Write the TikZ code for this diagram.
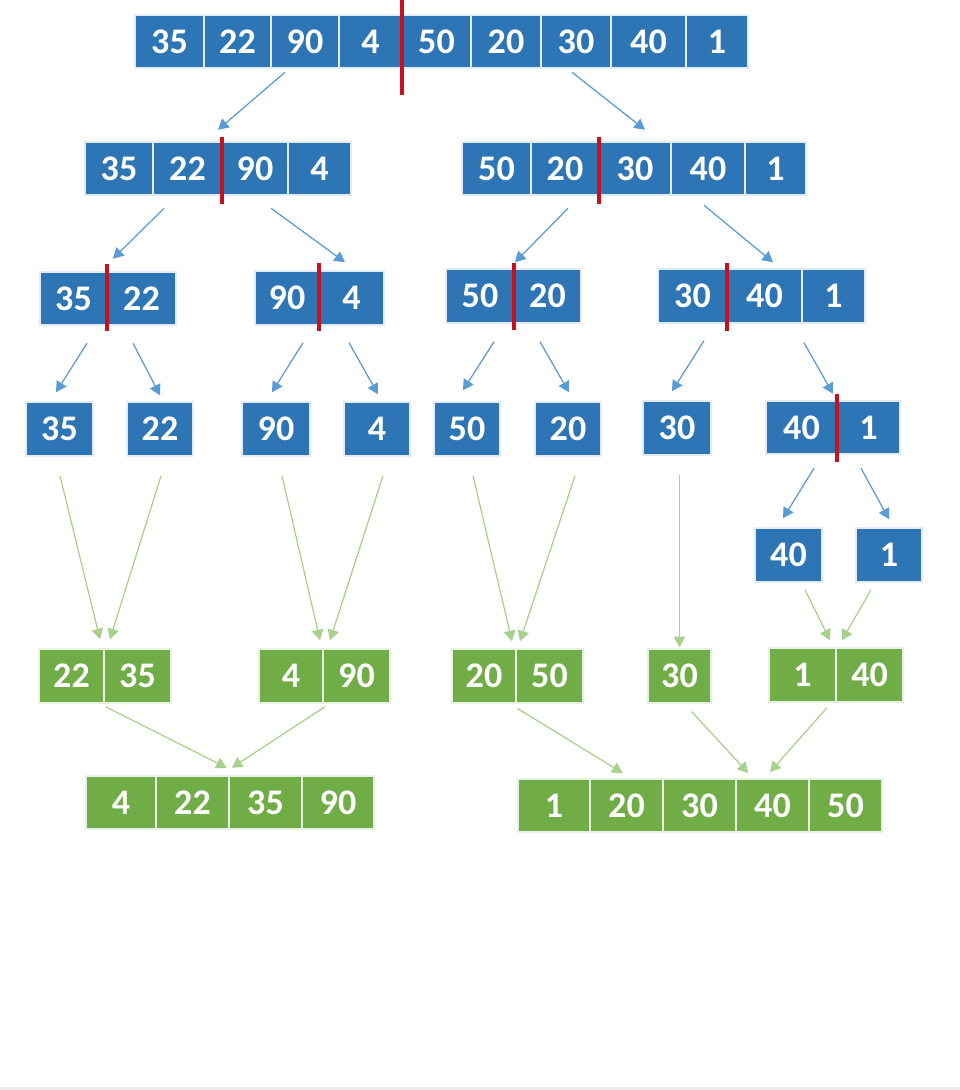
\documentclass[tikz,border=0pt]{standalone}
\usepackage{fontspec}
\setmainfont{Carlito}
\usetikzlibrary{arrows.meta}
\definecolor{cellblue}{RGB}{46,117,182}
\definecolor{cellgreen}{RGB}{112,173,71}
\definecolor{arrowblue}{RGB}{91,155,213}
\definecolor{arrowgreen}{RGB}{169,209,142}
\definecolor{cutred}{RGB}{200,16,30}
\begin{document}
\begin{tikzpicture}[x=0.02cm, y=-0.02cm,
	cell/.style={minimum height=1.07cm, inner sep=0, outer sep=0, line width=0.9pt, text=white,
		font=\fontsize{20.5}{24}\selectfont\bfseries},
	bcell/.style={cell, fill=cellblue, draw={rgb,255:red,225;green,236;blue,247}},
	gcell/.style={cell, fill=cellgreen, draw={rgb,255:red,232;green,242;blue,226}},
	split/.style={-{Triangle[length=6pt,width=6.5pt]}, draw=arrowblue, fill=arrowblue, line width=0.7pt},
	merge/.style={-{Triangle[length=6pt,width=6.5pt]}, draw=arrowgreen, fill=arrowgreen, line width=0.7pt},
	cut/.style={draw=cutred, line width=2pt}]
	\useasboundingbox (0,0) rectangle (960,1090);
	\fill[white] (0,0) rectangle (960,1090);
	\fill[black!8] (0,1087) rectangle (960,1090);
	
	% whole array
	\node[bcell, minimum width=1.38cm] (t1) at (169.5,41.5) {35};
	\node[bcell, minimum width=1.34cm] (t2) at (237.5,41.5) {22};
	\node[bcell, minimum width=1.36cm] (t3) at (305,41.5) {90};
	\node[bcell, minimum width=1.26cm] (t4) at (370.5,41.5) {4};
	\node[bcell, minimum width=1.38cm] (t5) at (436.5,41.5) {50};
	\node[bcell, minimum width=1.40cm] (t6) at (506,41.5) {20};
	\node[bcell, minimum width=1.40cm] (t7) at (576,41.5) {30};
	\node[bcell, minimum width=1.50cm] (t8) at (648.5,41.5) {40};
	\node[bcell, minimum width=1.24cm] (t9) at (717,41.5) {1};
	\draw[cut] ([shift={(0,-15)}]t4.north east) -- ([shift={(0,27)}]t4.south east);
	
	% halves
	\node[bcell, minimum width=1.36cm] (la1) at (119,168.5) {35};
	\node[bcell, minimum width=1.38cm] (la2) at (187.5,168.5) {22};
	\node[bcell, minimum width=1.32cm] (la3) at (255,168.5) {90};
	\node[bcell, minimum width=1.26cm] (la4) at (319.5,168.5) {4};
	\draw[cut] ([shift={(0,-5)}]la2.north east) -- ([shift={(0,9)}]la2.south east);
	
	\node[bcell, minimum width=1.38cm] (ra1) at (496.5,168.5) {50};
	\node[bcell, minimum width=1.36cm] (ra2) at (565,168.5) {20};
	\node[bcell, minimum width=1.44cm] (ra3) at (635,168.5) {30};
	\node[bcell, minimum width=1.48cm] (ra4) at (708,168.5) {40};
	\node[bcell, minimum width=1.22cm] (ra5) at (775.5,168.5) {1};
	\draw[cut] ([shift={(0,-5)}]ra2.north east) -- ([shift={(0,9)}]ra2.south east);
	
	\draw[split] ([shift={(-20,4)}]t3.south) -- ([shift={(-4,-12)}]la2.north east);
	\draw[split] ([shift={(-4,4)}]t7.south) -- ([shift={(10,-12)}]ra3.north);
	
	% quarters
	\node[bcell, minimum width=1.34cm] (m1) at (73.5,298.5) {35};
	\node[bcell, minimum width=1.38cm] (m2) at (141.5,298.5) {22};
	\node[bcell, minimum width=1.28cm] (m3) at (287,298) {90};
	\node[bcell, minimum width=1.30cm] (m4) at (351.5,298) {4};
	\node[bcell, minimum width=1.36cm] (m5) at (480,296) {50};
	\node[bcell, minimum width=1.34cm] (m6) at (547.5,296) {20};
	\node[bcell, minimum width=1.38cm] (m7) at (692.5,296) {30};
	\node[bcell, minimum width=1.50cm] (m8) at (764.5,296) {40};
	\node[bcell, minimum width=1.26cm] (m9) at (833.5,296) {1};
	\draw[cut] ([shift={(0,-8)}]m1.north east) -- ([shift={(0,6)}]m1.south east);
	\draw[cut] ([shift={(0,-8)}]m3.north east) -- ([shift={(0,6)}]m3.south east);
	\draw[cut] ([shift={(0,-6)}]m5.north east) -- ([shift={(0,7)}]m5.south east);
	\draw[cut] ([shift={(0,-6)}]m7.north east) -- ([shift={(0,8)}]m7.south east);
	
	\draw[split] ([shift={(11,13)}]la1.south east) -- ([shift={(6,-13)}]m1.north east);
	\draw[split] ([shift={(16,13)}]la3.south) -- ([shift={(-6.5,-9)}]m4.north);
	\draw[split] ([shift={(3,13)}]ra2.south) -- ([shift={(1,-7)}]m5.north east);
	\draw[split] ([shift={(-4,10)}]ra4.south) -- ([shift={(8.5,-7)}]m8.north);
	
	% single elements
	\node[bcell, minimum width=1.34cm] (s1) at (59.5,429) {35};
	\node[bcell, minimum width=1.32cm] (s2) at (160,429) {22};
	\node[bcell, minimum width=1.36cm] (s3) at (276,429) {90};
	\node[bcell, minimum width=1.32cm] (s4) at (377,429) {4};
	\node[bcell, minimum width=1.32cm] (s5) at (467,429) {50};
	\node[bcell, minimum width=1.32cm] (s6) at (568,429) {20};
	\node[bcell, minimum width=1.36cm] (s7) at (677,428) {30};
	\node[bcell, minimum width=1.42cm] (s8) at (801.5,427.5) {40};
	\node[bcell, minimum width=1.26cm] (s9) at (868.5,427.5) {1};
	\draw[cut] ([shift={(0,-7)}]s8.north east) -- ([shift={(0,8)}]s8.south east);
	
	\draw[split] ([shift={(13.5,18)}]m1.south) -- ([shift={(-3.5,-10)}]s1.north);
	\draw[split] ([shift={(-8.5,18)}]m2.south) -- ([shift={(0,-7)}]s2.north);
	\draw[split] ([shift={(16,18)}]m3.south) -- ([shift={(-4,-10)}]s3.north);
	\draw[split] ([shift={(-2.5,18)}]m4.south) -- ([shift={(1,-8)}]s4.north);
	\draw[split] ([shift={(14,19)}]m5.south) -- ([shift={(-4,-12)}]s5.north);
	\draw[split] ([shift={(-7.5,19)}]m6.south) -- ([shift={(1,-10)}]s6.north);
	\draw[split] ([shift={(11.5,18)}]m7.south) -- ([shift={(-5,-10)}]s7.north);
	\draw[split] ([shift={(2,20)}]m8.south east) -- ([shift={(-4,-7)}]s8.north east);
	
	\node[bcell, minimum width=1.34cm] (u1) at (788.5,555) {40};
	\node[bcell, minimum width=1.32cm] (u2) at (889,555) {1};
	\draw[split] ([shift={(12.5,14)}]s8.south) -- ([shift={(-5.5,-10)}]u1.north);
	\draw[split] ([shift={(-7.5,14)}]s9.south) -- ([shift={(0,-9)}]u2.north);
	
	% merged pairs
	\node[gcell, minimum width=1.30cm] (g1) at (71.5,676) {22};
	\node[gcell, minimum width=1.34cm] (g2) at (137.5,676) {35};
	\node[gcell, minimum width=1.28cm] (g3) at (291,676) {4};
	\node[gcell, minimum width=1.34cm] (g4) at (356.5,676) {90};
	\node[gcell, minimum width=1.28cm] (g5) at (484,676) {20};
	\node[gcell, minimum width=1.34cm] (g6) at (549.5,676) {50};
	\node[gcell, minimum width=1.26cm] (g7) at (679.5,676) {30};
	\node[gcell, minimum width=1.34cm] (g8) at (802.5,675) {1};
	\node[gcell, minimum width=1.34cm] (g9) at (869.5,675) {40};
	
	\draw[merge] ([shift={(0.5,20)}]s1.south) -- ([shift={(-4,-10)}]g1.north east);
	\draw[merge] ([shift={(1,20)}]s2.south) -- ([shift={(6,-10)}]g1.north east);
	\draw[merge] ([shift={(6,20)}]s3.south) -- ([shift={(-3,-9)}]g3.north east);
	\draw[merge] ([shift={(6,20)}]s4.south) -- ([shift={(7,-9)}]g3.north east);
	\draw[merge] ([shift={(6,20)}]s5.south) -- ([shift={(-4,-8)}]g5.north east);
	\draw[merge] ([shift={(7,20)}]s6.south) -- ([shift={(4,-8)}]g5.north east);
	\draw[merge] ([shift={(2.5,20)}]s7.south) -- ([shift={(0,-2)}]g7.north);
	\draw[merge] ([shift={(16.5,8)}]u1.south) -- ([shift={(-6,-8)}]g8.north east);
	\draw[merge] ([shift={(-18,8)}]u2.south) -- ([shift={(6,-8)}]g8.north east);
	
	% merged halves
	\node[gcell, minimum width=1.40cm] (fl1) at (121,802.5) {4};
	\node[gcell, minimum width=1.46cm] (fl2) at (192.5,802.5) {22};
	\node[gcell, minimum width=1.46cm] (fl3) at (265.5,802.5) {35};
	\node[gcell, minimum width=1.44cm] (fl4) at (338,802.5) {90};
	
	\node[gcell, minimum width=1.44cm] (fr1) at (554,805.5) {1};
	\node[gcell, minimum width=1.46cm] (fr2) at (626.5,805.5) {20};
	\node[gcell, minimum width=1.46cm] (fr3) at (699.5,805.5) {30};
	\node[gcell, minimum width=1.46cm] (fr4) at (772.5,805.5) {40};
	\node[gcell, minimum width=1.46cm] (fr5) at (845.5,805.5) {50};
	
	\draw[merge] ([shift={(1.7,4)}]g1.south east) -- ([shift={(-2.3,-8)}]fl2.north east);
	\draw[merge] ([shift={(2,4)}]g3.south east) -- ([shift={(2.7,-8)}]fl2.north east);
	\draw[merge] ([shift={(1.3,5.6)}]g5.south east) -- ([shift={(-3.8,-5.7)}]fr2.north);
	\draw[merge] ([shift={(12.2,9)}]g7.south) -- ([shift={(12.3,-5.7)}]fr3.north east);
	\draw[merge] ([shift={(-9.3,6.3)}]g8.south east) -- ([shift={(-2.5,-6.7)}]fr4.north);
\end{tikzpicture}
\end{document}
